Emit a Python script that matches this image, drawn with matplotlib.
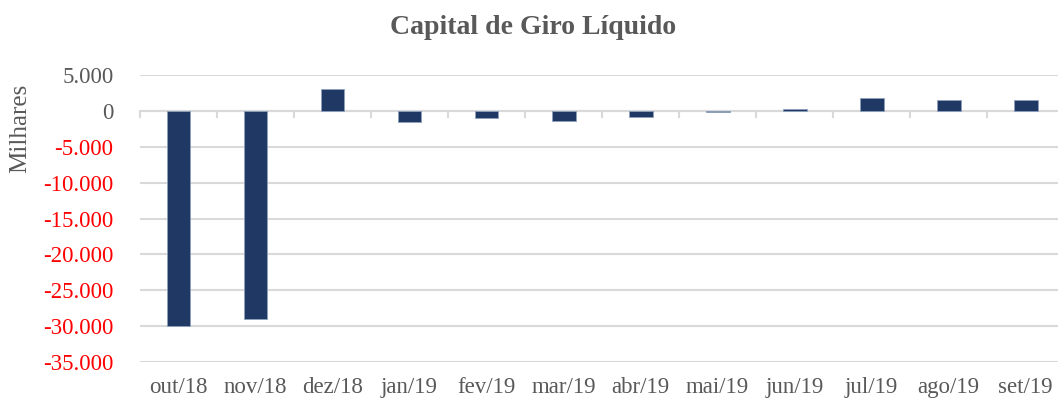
import matplotlib.pyplot as plt
import matplotlib.transforms as mtransforms
import numpy as np
from matplotlib.ticker import FuncFormatter

plt.rcParams['font.family'] = ['Liberation Serif', 'DejaVu Serif']

months = ['out/18', 'nov/18', 'dez/18', 'jan/19', 'fev/19', 'mar/19',
          'abr/19', 'mai/19', 'jun/19', 'jul/19', 'ago/19', 'set/19']
capital_giro = [-30000, -29000, 3100, -1550, -1000, -1400,
                -900, -100, 250, 1850, 1550, 1500]
y_ticks = [5000, 0, -5000, -10000, -15000, -20000, -25000, -30000, -35000]

BAR = '#1F3864'
GRID = '#D9D9D9'
TXT = '#595959'


def _fmt(v, _pos):
    s = f'{abs(int(v)):,}'.replace(',', '.')
    return ('-' + s) if v < 0 else s


fig = plt.figure(figsize=(10.58, 4.03), dpi=100)
ax = fig.add_axes([140 / 1058, 41 / 403, 918 / 1058, 287 / 403])

x = np.arange(len(months))
ax.bar(x, capital_giro, width=0.31, color=BAR, edgecolor='#8EA0BE',
       linewidth=0.6, zorder=3)

ax.set_ylim(-35000, 5000)
ax.set_xlim(-0.5, 11.42)
ax.set_yticks(y_ticks)
ax.yaxis.set_major_formatter(FuncFormatter(_fmt))
ax.grid(axis='y', color=GRID, linewidth=1.5, zorder=0)
ax.axhline(0, color=GRID, linewidth=1.5, zorder=1)

# category boundary ticks on the zero line
trans = mtransforms.blended_transform_factory(ax.transData, ax.transAxes)
zero_ax = 35000 / 40000
for b in np.arange(-0.5, len(months), 1.0):
    ax.plot([b, b], [zero_ax, zero_ax - 0.02], color=GRID, lw=1.5,
            transform=trans, zorder=1, clip_on=False)

ax.set_xticks(x)
ax.set_xticklabels(months)
ax.tick_params(axis='both', length=0, labelsize=16.5, colors=TXT)
ax.tick_params(axis='y', pad=19)
ax.tick_params(axis='x', pad=11)
for lab, v in zip(ax.get_yticklabels(), y_ticks):
    lab.set_color('red' if v < 0 else TXT)

for s in ax.spines.values():
    s.set_visible(False)

ax.set_ylabel('Milhares', fontsize=18, color=TXT)
ax.yaxis.set_label_coords(-0.118, 0.815)
fig.text(0.504, 0.932, 'Capital de Giro Líquido', ha='center', va='center',
         fontsize=20, fontweight='bold', color=TXT)

fig.savefig('out.png', dpi=100)
